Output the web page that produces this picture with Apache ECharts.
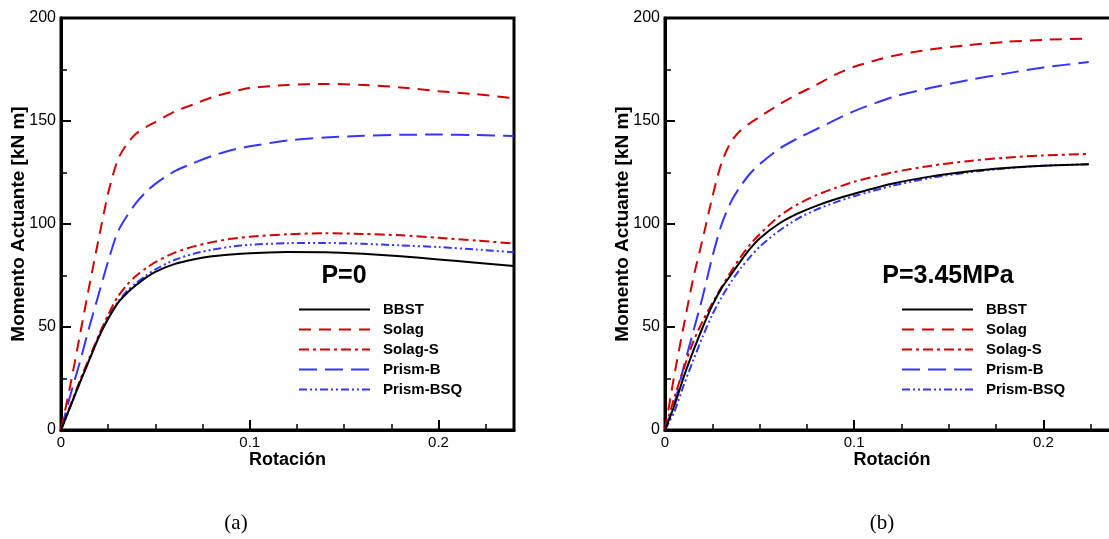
<!DOCTYPE html>
<html>
<head>
<meta charset="utf-8">
<script src="https://cdn.jsdelivr.net/npm/echarts@6/dist/echarts.min.js"></script>
<style>html,body{margin:0;padding:0;background:#fff;}#c{width:1109px;height:539px;}</style>
</head>
<body>
<div id="c"></div>
<script>
// ---------- DATA ----------
const seriesNames = ['BBST', 'Solag', 'Solag-S', 'Prism-B', 'Prism-BSQ'];
const yTicks = [0, 50, 100, 150, 200];
const xTicks = [0, 0.1, 0.2];

// (a) P=0
const rotA = [0, 0.005, 0.01, 0.015, 0.02, 0.025, 0.03, 0.035, 0.04, 0.045, 0.05, 0.06, 0.07, 0.08, 0.09, 0.1, 0.12, 0.14, 0.16, 0.18, 0.2, 0.22, 0.24];
const bbstA     = [0, 11.5, 23, 34, 45, 54, 61.5, 66.5, 70.5, 74, 76.8, 80.5, 82.8, 84.3, 85.2, 85.8, 86.4, 86.3, 85.5, 84.3, 82.8, 81.2, 79.6];
const solagA    = [0, 22, 46, 70, 93, 115, 131, 139, 144, 147, 149.5, 154.5, 158, 161.5, 164, 166, 167.5, 168, 167.5, 166.3, 164.5, 163, 161];
const solagSA   = [0, 12, 24, 35, 46, 56, 64.5, 70.5, 75, 78.5, 81.5, 86, 89, 91.2, 92.8, 93.8, 95, 95.5, 95.2, 94.5, 93.3, 92, 90.5];
const prismBA   = [0, 17, 33, 50, 66, 82, 96, 104, 110.5, 115.5, 119.5, 125.5, 129.5, 133, 135.8, 137.7, 140.5, 142, 142.8, 143.3, 143.4, 143.2, 142.7];
const prismBSQA = [0, 11.5, 23, 34.5, 45.5, 54.5, 62, 67.5, 71.5, 75, 78, 82.5, 85.5, 87.5, 89, 89.9, 90.7, 90.8, 90.4, 89.6, 88.8, 87.6, 86.3];

// (b) P=3.45MPa
const rotB = [0, 0.005, 0.01, 0.015, 0.02, 0.025, 0.03, 0.035, 0.04, 0.045, 0.05, 0.06, 0.07, 0.08, 0.09, 0.1, 0.12, 0.14, 0.16, 0.18, 0.2, 0.224];
const bbstB     = [0, 12, 26, 38.5, 50, 60.5, 69, 75.5, 82, 88, 93, 100, 105, 108.8, 112, 114.7, 119.5, 123, 125.5, 127.2, 128.3, 129];
const solagB    = [0, 27, 51, 74, 93, 113, 130, 140, 145.5, 149, 152, 157.8, 163, 167.5, 172.5, 176.3, 181.5, 184.7, 186.8, 188.4, 189.4, 190];
const solagSB   = [0, 16, 30, 43, 53, 61.5, 69.5, 77, 84, 90, 95, 103.5, 109.5, 114, 117.5, 120.5, 125, 128.2, 130.5, 132.2, 133.3, 134];
const prismBB   = [0, 13, 31, 48, 65, 84, 100, 111, 118.5, 124.5, 129, 136.3, 141.5, 146, 150.5, 154.8, 161.5, 166, 169.8, 173, 176, 178.6];
const prismBSQB = [0, 9, 22, 34, 45.5, 56, 64.5, 72, 78.5, 84, 89, 96.5, 102.5, 107, 110.5, 113.5, 118.5, 122.3, 125, 127, 128.3, 129];

const panelTitles = ['P=0', 'P=3.45MPa'];
const captions = ['(a)', '(b)'];
const xName = 'Rotación';
const yName = 'Momento Actuante [kN m]';

// ---------- STYLE ----------
const RED = '#d40000', BLUE = '#3535ff';
const styles = {
  'BBST':      {color: '#000', type: 'solid'},
  'Solag':     {color: RED, type: [12, 8]},
  'Solag-S':   {color: RED, type: [10, 4, 3, 4]},
  'Prism-B':   {color: BLUE, type: [18, 8]},
  'Prism-BSQ': {color: BLUE, type: [8, 3, 2, 3, 2, 3]}
};
const font = 'Liberation Sans, Arial, sans-serif';

function pairs(xs, ys) { return xs.map((x, i) => [x, ys[i]]); }

const panels = [
  {x: rotA, ys: [bbstA, solagA, solagSA, prismBA, prismBSQA]},
  {x: rotB, ys: [bbstB, solagB, solagSB, prismBB, prismBSQB]}
];

const grids = [
  {left: 61, top: 18, width: 453, height: 412},
  {left: 665, top: 18, width: 454, height: 412}
];

const xAxes = [], yAxes = [], series = [];
grids.forEach((g, gi) => {
  g.show = true; g.borderColor = '#000'; g.borderWidth = 3; g.containLabel = false;
  g.outerBoundsMode = 'none';
  xAxes.push({
    type: 'value', gridIndex: gi, position: 'bottom', min: 0, max: 0.24, interval: 0.1,
    name: xName, nameLocation: 'middle', nameGap: 21, nameMoveOverlap: false,
    nameTextStyle: {fontFamily: font, fontWeight: 'bold', fontSize: 18, color: '#000'},
    axisLine: {show: true, onZero: false, lineStyle: {color: '#000', width: 3}},
    axisTick: {show: true, inside: true, length: 10, lineStyle: {color: '#000', width: 2}},
    axisLabel: {show: true, showMaxLabel: false, margin: 5, fontFamily: font, fontSize: 15, color: '#000',
      formatter: v => xTicks.includes(Math.round(v * 1000) / 1000) ? String(v) : ''},
    splitLine: {show: false}
  });
  xAxes.push({
    type: 'value', gridIndex: gi, position: 'bottom', min: 0, max: 0.24, interval: 0.025,
    axisLine: {show: false}, axisLabel: {show: false}, splitLine: {show: false},
    axisTick: {show: true, inside: true, length: 6, lineStyle: {color: '#000', width: 1.5}}
  });
  yAxes.push({
    type: 'value', gridIndex: gi, min: 0, max: 200, interval: 50,
    name: yName, nameLocation: 'middle', nameGap: 33, nameRotate: 90, nameMoveOverlap: false,
    nameTextStyle: {fontFamily: font, fontWeight: 'bold', fontSize: 19, color: '#000'},
    axisLine: {show: true, onZero: false, lineStyle: {color: '#000', width: 3}},
    axisTick: {show: true, inside: true, length: 10, lineStyle: {color: '#000', width: 2}},
    minorTick: {show: true, splitNumber: 2, length: 6, lineStyle: {color: '#000', width: 1.5}},
    axisLabel: {margin: 5, fontFamily: font, fontSize: 16, color: '#000',
      formatter: v => yTicks.includes(v) ? String(v) : ''},
    splitLine: {show: false}, minorSplitLine: {show: false}
  });
  const p = panels[gi];
  seriesNames.forEach((nm, si) => {
    series.push({
      name: nm, type: 'line', xAxisIndex: gi * 2, yAxisIndex: gi,
      data: pairs(p.x, p.ys[si]), smooth: 0.25, symbol: 'none', showSymbol: false,
      lineStyle: {color: styles[nm].color, type: styles[nm].type, width: 2},
      itemStyle: {color: styles[nm].color},
      z: 5 - si, silent: true, animation: false
    });
  });
});

const legendBase = {
  orient: 'vertical', itemWidth: 71, itemHeight: 14, itemGap: 5, padding: 0,
  selectedMode: false, data: seriesNames,
  itemStyle: {opacity: 0, borderWidth: 0},
  textStyle: {fontFamily: font, fontWeight: 'bold', fontSize: 15, color: '#000', padding: [0, 0, 0, 8]}
};

const chart = echarts.init(document.getElementById('c'), null, {renderer: 'canvas'});
chart.setOption({
  backgroundColor: '#fff',
  animation: false,
  grid: grids,
  xAxis: xAxes,
  yAxis: yAxes,
  series: series,
  legend: [
    Object.assign({}, legendBase, {left: 298, top: 302}),
    Object.assign({}, legendBase, {left: 901, top: 302})
  ],
  graphic: [
    {type: 'text', x: 344, y: 276, style: {text: panelTitles[0], fontFamily: font, fontWeight: 'bold', fontSize: 25, fill: '#000', textAlign: 'center', textVerticalAlign: 'middle'}},
    {type: 'text', x: 948, y: 276, style: {text: panelTitles[1], fontFamily: font, fontWeight: 'bold', fontSize: 25, fill: '#000', textAlign: 'center', textVerticalAlign: 'middle'}},
    {type: 'text', x: 236, y: 523, style: {text: captions[0], fontFamily: 'Liberation Serif, Times New Roman, serif', fontSize: 21, fill: '#000', textAlign: 'center', textVerticalAlign: 'middle'}},
    {type: 'text', x: 882, y: 523, style: {text: captions[1], fontFamily: 'Liberation Serif, Times New Roman, serif', fontSize: 21, fill: '#000', textAlign: 'center', textVerticalAlign: 'middle'}}
  ]
});
</script>
</body>
</html>
